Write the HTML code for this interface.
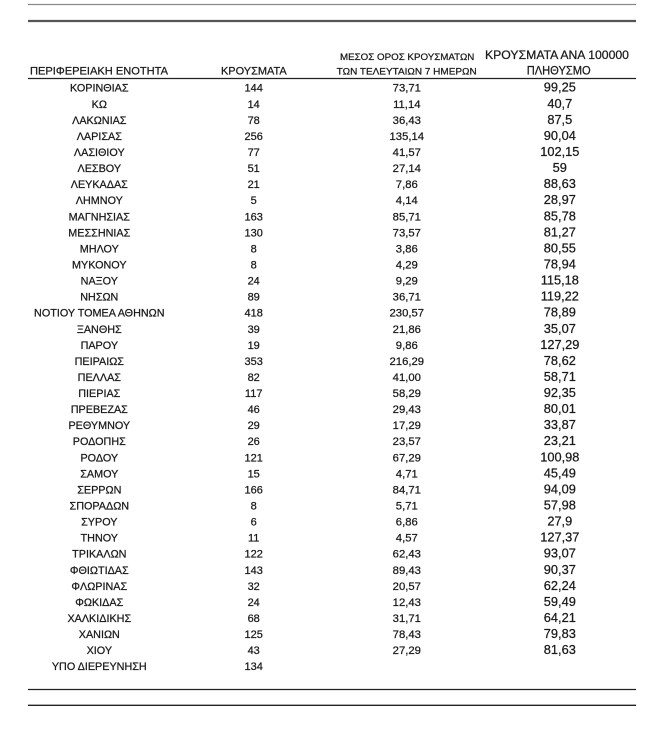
<!DOCTYPE html>
<html>
<head>
<meta charset="utf-8">
<style>
html,body{margin:0;padding:0;background:#fff;}
svg{display:block;}
text{font-family:"Liberation Sans","DejaVu Sans",sans-serif;fill:#1a1a1a;stroke:#1a1a1a;stroke-width:0.25px;}
.c1{font-size:10.8px;}
.c2{font-size:11px;}
.c3{font-size:11.3px;}
.c4{font-size:12.8px;}
</style>
</head>
<body>
<svg width="658" height="750" viewBox="0 0 658 750" xmlns="http://www.w3.org/2000/svg">
<rect x="0" y="0" width="658" height="750" fill="#fff"/>
<line x1="28" y1="4.5" x2="636" y2="4.5" stroke="#8a8a8a" stroke-width="1.2"/>
<line x1="28" y1="21" x2="636" y2="21" stroke="#555" stroke-width="2.2"/>
<line x1="28" y1="78.5" x2="636" y2="78.5" stroke="#222" stroke-width="1.2"/>
<line x1="28" y1="689.5" x2="636" y2="689.5" stroke="#222" stroke-width="1.3"/>
<line x1="28" y1="705.3" x2="636" y2="705.3" stroke="#222" stroke-width="1.3"/>

<text x="30" y="74.3" font-size="11" textLength="138" lengthAdjust="spacingAndGlyphs">ΠΕΡΙΦΕΡΕΙΑΚΗ ΕΝΟΤΗΤΑ</text>
<text x="221" y="74.3" font-size="11" textLength="65.7" lengthAdjust="spacingAndGlyphs">ΚΡΟΥΣΜΑΤΑ</text>
<text x="340" y="60" font-size="9.6" textLength="134.3" lengthAdjust="spacingAndGlyphs">ΜΕΣΟΣ ΟΡΟΣ ΚΡΟΥΣΜΑΤΩΝ</text>
<text x="336.7" y="74.3" font-size="9.6" textLength="140" lengthAdjust="spacingAndGlyphs">ΤΩΝ ΤΕΛΕΥΤΑΙΩΝ 7 ΗΜΕΡΩΝ</text>
<text x="485" y="59" font-size="12.2" textLength="144" lengthAdjust="spacingAndGlyphs">ΚΡΟΥΣΜΑΤΑ ΑΝΑ 100000</text>
<text x="526.7" y="74.3" font-size="12.2" textLength="64" lengthAdjust="spacingAndGlyphs">ΠΛΗΘΥΣΜΟ</text>

<g text-anchor="middle">
<g class="c1">
<text x="99.3" y="91.7">ΚΟΡΙΝΘΙΑΣ</text>
<text x="99.3" y="107.8">ΚΩ</text>
<text x="99.3" y="123.8">ΛΑΚΩΝΙΑΣ</text>
<text x="99.3" y="139.9">ΛΑΡΙΣΑΣ</text>
<text x="99.3" y="156.0">ΛΑΣΙΘΙΟΥ</text>
<text x="99.3" y="172.1">ΛΕΣΒΟΥ</text>
<text x="99.3" y="188.1">ΛΕΥΚΑΔΑΣ</text>
<text x="99.3" y="204.2">ΛΗΜΝΟΥ</text>
<text x="99.3" y="220.3">ΜΑΓΝΗΣΙΑΣ</text>
<text x="99.3" y="236.3">ΜΕΣΣΗΝΙΑΣ</text>
<text x="99.3" y="252.4">ΜΗΛΟΥ</text>
<text x="99.3" y="268.5">ΜΥΚΟΝΟΥ</text>
<text x="99.3" y="284.5">ΝΑΞΟΥ</text>
<text x="99.3" y="300.6">ΝΗΣΩΝ</text>
<text x="99.3" y="316.7">ΝΟΤΙΟΥ ΤΟΜΕΑ ΑΘΗΝΩΝ</text>
<text x="99.3" y="332.8">ΞΑΝΘΗΣ</text>
<text x="99.3" y="348.8">ΠΑΡΟΥ</text>
<text x="99.3" y="364.9">ΠΕΙΡΑΙΩΣ</text>
<text x="99.3" y="381.0">ΠΕΛΛΑΣ</text>
<text x="99.3" y="397.0">ΠΙΕΡΙΑΣ</text>
<text x="99.3" y="413.1">ΠΡΕΒΕΖΑΣ</text>
<text x="99.3" y="429.2">ΡΕΘΥΜΝΟΥ</text>
<text x="99.3" y="445.2">ΡΟΔΟΠΗΣ</text>
<text x="99.3" y="461.3">ΡΟΔΟΥ</text>
<text x="99.3" y="477.4">ΣΑΜΟΥ</text>
<text x="99.3" y="493.5">ΣΕΡΡΩΝ</text>
<text x="99.3" y="509.5">ΣΠΟΡΑΔΩΝ</text>
<text x="99.3" y="525.6">ΣΥΡΟΥ</text>
<text x="99.3" y="541.7">ΤΗΝΟΥ</text>
<text x="99.3" y="557.7">ΤΡΙΚΑΛΩΝ</text>
<text x="99.3" y="573.8">ΦΘΙΩΤΙΔΑΣ</text>
<text x="99.3" y="589.9">ΦΛΩΡΙΝΑΣ</text>
<text x="99.3" y="605.9">ΦΩΚΙΔΑΣ</text>
<text x="99.3" y="622.0">ΧΑΛΚΙΔΙΚΗΣ</text>
<text x="99.3" y="638.1">ΧΑΝΙΩΝ</text>
<text x="99.3" y="654.2">ΧΙΟΥ</text>
<text x="99.3" y="670.2">ΥΠΟ ΔΙΕΡΕΥΝΗΣΗ</text>
</g>
<g class="c2">
<text x="253.7" y="91.7">144</text>
<text x="253.7" y="107.8">14</text>
<text x="253.7" y="123.8">78</text>
<text x="253.7" y="139.9">256</text>
<text x="253.7" y="156.0">77</text>
<text x="253.7" y="172.1">51</text>
<text x="253.7" y="188.1">21</text>
<text x="253.7" y="204.2">5</text>
<text x="253.7" y="220.3">163</text>
<text x="253.7" y="236.3">130</text>
<text x="253.7" y="252.4">8</text>
<text x="253.7" y="268.5">8</text>
<text x="253.7" y="284.5">24</text>
<text x="253.7" y="300.6">89</text>
<text x="253.7" y="316.7">418</text>
<text x="253.7" y="332.8">39</text>
<text x="253.7" y="348.8">19</text>
<text x="253.7" y="364.9">353</text>
<text x="253.7" y="381.0">82</text>
<text x="253.7" y="397.0">117</text>
<text x="253.7" y="413.1">46</text>
<text x="253.7" y="429.2">29</text>
<text x="253.7" y="445.2">26</text>
<text x="253.7" y="461.3">121</text>
<text x="253.7" y="477.4">15</text>
<text x="253.7" y="493.5">166</text>
<text x="253.7" y="509.5">8</text>
<text x="253.7" y="525.6">6</text>
<text x="253.7" y="541.7">11</text>
<text x="253.7" y="557.7">122</text>
<text x="253.7" y="573.8">143</text>
<text x="253.7" y="589.9">32</text>
<text x="253.7" y="605.9">24</text>
<text x="253.7" y="622.0">68</text>
<text x="253.7" y="638.1">125</text>
<text x="253.7" y="654.2">43</text>
<text x="253.7" y="670.2">134</text>
</g>
<g class="c3">
<text x="406.8" y="91.7">73,71</text>
<text x="406.8" y="107.8">11,14</text>
<text x="406.8" y="123.8">36,43</text>
<text x="406.8" y="139.9">135,14</text>
<text x="406.8" y="156.0">41,57</text>
<text x="406.8" y="172.1">27,14</text>
<text x="406.8" y="188.1">7,86</text>
<text x="406.8" y="204.2">4,14</text>
<text x="406.8" y="220.3">85,71</text>
<text x="406.8" y="236.3">73,57</text>
<text x="406.8" y="252.4">3,86</text>
<text x="406.8" y="268.5">4,29</text>
<text x="406.8" y="284.5">9,29</text>
<text x="406.8" y="300.6">36,71</text>
<text x="406.8" y="316.7">230,57</text>
<text x="406.8" y="332.8">21,86</text>
<text x="406.8" y="348.8">9,86</text>
<text x="406.8" y="364.9">216,29</text>
<text x="406.8" y="381.0">41,00</text>
<text x="406.8" y="397.0">58,29</text>
<text x="406.8" y="413.1">29,43</text>
<text x="406.8" y="429.2">17,29</text>
<text x="406.8" y="445.2">23,57</text>
<text x="406.8" y="461.3">67,29</text>
<text x="406.8" y="477.4">4,71</text>
<text x="406.8" y="493.5">84,71</text>
<text x="406.8" y="509.5">5,71</text>
<text x="406.8" y="525.6">6,86</text>
<text x="406.8" y="541.7">4,57</text>
<text x="406.8" y="557.7">62,43</text>
<text x="406.8" y="573.8">89,43</text>
<text x="406.8" y="589.9">20,57</text>
<text x="406.8" y="605.9">12,43</text>
<text x="406.8" y="622.0">31,71</text>
<text x="406.8" y="638.1">78,43</text>
<text x="406.8" y="654.2">27,29</text>
</g>
<g class="c4">
<text x="559.8" y="91.7">99,25</text>
<text x="559.8" y="107.8">40,7</text>
<text x="559.8" y="123.8">87,5</text>
<text x="559.8" y="139.9">90,04</text>
<text x="559.8" y="156.0">102,15</text>
<text x="559.8" y="172.1">59</text>
<text x="559.8" y="188.1">88,63</text>
<text x="559.8" y="204.2">28,97</text>
<text x="559.8" y="220.3">85,78</text>
<text x="559.8" y="236.3">81,27</text>
<text x="559.8" y="252.4">80,55</text>
<text x="559.8" y="268.5">78,94</text>
<text x="559.8" y="284.5">115,18</text>
<text x="559.8" y="300.6">119,22</text>
<text x="559.8" y="316.7">78,89</text>
<text x="559.8" y="332.8">35,07</text>
<text x="559.8" y="348.8">127,29</text>
<text x="559.8" y="364.9">78,62</text>
<text x="559.8" y="381.0">58,71</text>
<text x="559.8" y="397.0">92,35</text>
<text x="559.8" y="413.1">80,01</text>
<text x="559.8" y="429.2">33,87</text>
<text x="559.8" y="445.2">23,21</text>
<text x="559.8" y="461.3">100,98</text>
<text x="559.8" y="477.4">45,49</text>
<text x="559.8" y="493.5">94,09</text>
<text x="559.8" y="509.5">57,98</text>
<text x="559.8" y="525.6">27,9</text>
<text x="559.8" y="541.7">127,37</text>
<text x="559.8" y="557.7">93,07</text>
<text x="559.8" y="573.8">90,37</text>
<text x="559.8" y="589.9">62,24</text>
<text x="559.8" y="605.9">59,49</text>
<text x="559.8" y="622.0">64,21</text>
<text x="559.8" y="638.1">79,83</text>
<text x="559.8" y="654.2">81,63</text>
</g>
</g>
</svg>
</body>
</html>
